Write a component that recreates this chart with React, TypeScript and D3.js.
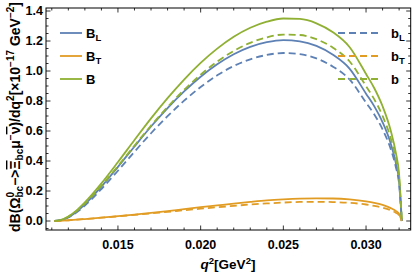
import React from 'react';
import * as d3 from 'd3';

// q^2 sample points [GeV^2]
const qValues = [0.01116, 0.0115, 0.012, 0.0125, 0.013, 0.014, 0.015, 0.016, 0.017, 0.018, 0.019, 0.020, 0.021, 0.022, 0.023, 0.024, 0.025, 0.026, 0.027, 0.028, 0.029, 0.030, 0.0305, 0.031, 0.0315, 0.0318, 0.0320, 0.03216];

// solid curves
const B_L = [0, 0.004, 0.0255, 0.062, 0.111, 0.229, 0.361, 0.497, 0.630, 0.753, 0.864, 0.962, 1.045, 1.112, 1.161, 1.192, 1.206, 1.198, 1.167, 1.108, 1.016, 0.849, 0.764, 0.658, 0.514, 0.388, 0.263, 0];
const B_T = [0, 0.0015, 0.005, 0.009, 0.013, 0.022, 0.032, 0.043, 0.054, 0.066, 0.079, 0.092, 0.104, 0.116, 0.127, 0.137, 0.144, 0.149, 0.151, 0.150, 0.144, 0.131, 0.121, 0.107, 0.086, 0.067, 0.047, 0];
const B = [0, 0.0055, 0.0305, 0.071, 0.124, 0.251, 0.393, 0.540, 0.684, 0.819, 0.943, 1.054, 1.149, 1.228, 1.288, 1.329, 1.350, 1.347, 1.318, 1.258, 1.160, 0.980, 0.885, 0.765, 0.600, 0.455, 0.310, 0];

// dashed curves
const b_L = [0, 0.0037, 0.0237, 0.0576, 0.103, 0.213, 0.335, 0.462, 0.585, 0.699, 0.802, 0.893, 0.971, 1.033, 1.078, 1.107, 1.120, 1.113, 1.084, 1.029, 0.944, 0.789, 0.710, 0.611, 0.477, 0.360, 0.244, 0];
const b_T = [0, 0.0015, 0.005, 0.009, 0.013, 0.022, 0.031, 0.041, 0.051, 0.061, 0.072, 0.082, 0.092, 0.101, 0.110, 0.117, 0.123, 0.127, 0.128, 0.126, 0.121, 0.110, 0.101, 0.089, 0.071, 0.055, 0.039, 0];
const b = [0, 0.0052, 0.0287, 0.0666, 0.116, 0.235, 0.366, 0.503, 0.636, 0.760, 0.874, 0.975, 1.063, 1.134, 1.188, 1.224, 1.243, 1.240, 1.212, 1.155, 1.065, 0.899, 0.811, 0.700, 0.548, 0.415, 0.283, 0];

const xTicks = [0.015, 0.020, 0.025, 0.030];
const yTicks = [0.0, 0.2, 0.4, 0.6, 0.8, 1.0, 1.2, 1.4];

const BLUE = '#5E81B5';
const ORANGE = '#E19C24';
const GREEN = '#8FB032';

const series = [
  { name: 'L', values: B_L, color: BLUE, dashed: false },
  { name: 'T', values: B_T, color: ORANGE, dashed: false },
  { name: '', values: B, color: GREEN, dashed: false },
  { name: 'L', values: b_L, color: BLUE, dashed: true },
  { name: 'T', values: b_T, color: ORANGE, dashed: true },
  { name: '', values: b, color: GREEN, dashed: true },
];

const W = 415;
const H = 278;
const left = 46, right = 410.7, top = 8, bottom = 230;

const x = d3.scaleLinear().domain([0.01065, 0.0327]).range([left, right]);
const y = d3.scaleLinear().domain([-0.06, 1.42]).range([bottom, top]);

const font = '"Liberation Sans", Arial, sans-serif';

export default function App() {
  const line = d3.line<number>()
    .x((_, i) => x(qValues[i]))
    .y(d => y(d))
    .curve(d3.curveMonotoneX);

  // minor ticks (Mathematica style)
  const xMinor = d3.range(11, 33).map(v => v / 1000).filter(v => !xTicks.some(t => Math.abs(t - v) < 1e-9));
  const yMinor = d3.range(-1, 29).map(v => v * 0.05).filter(v => !yTicks.some(t => Math.abs(t - v) < 1e-9));

  const major = 4.5, minor = 2.5;

  return (
    <svg width={W} height={H} style={{ position: 'absolute', left: 0, top: 0, background: '#fff' }} fontFamily={font}>
      {/* curves */}
      <g fill="none" strokeWidth={1.8}>
        {series.map((s, i) => (
          <path key={i} d={line(s.values) || ''} stroke={s.color} strokeDasharray={s.dashed ? '7,4' : undefined} />
        ))}
      </g>

      {/* frame */}
      <rect x={left} y={top} width={right - left} height={bottom - top} fill="none" stroke="#000" strokeWidth={1} />

      {/* ticks on all four sides */}
      <g stroke="#000" strokeWidth={0.8}>
        {xTicks.map(t => (
          <g key={'xt' + t}>
            <line x1={x(t)} x2={x(t)} y1={bottom} y2={bottom - major} />
            <line x1={x(t)} x2={x(t)} y1={top} y2={top + major} />
          </g>
        ))}
        {xMinor.map(t => (
          <g key={'xm' + t}>
            <line x1={x(t)} x2={x(t)} y1={bottom} y2={bottom - minor} />
            <line x1={x(t)} x2={x(t)} y1={top} y2={top + minor} />
          </g>
        ))}
        {yTicks.map(t => (
          <g key={'yt' + t}>
            <line x1={left} x2={left + major} y1={y(t)} y2={y(t)} />
            <line x1={right} x2={right - major} y1={y(t)} y2={y(t)} />
          </g>
        ))}
        {yMinor.map(t => (
          <g key={'ym' + t}>
            <line x1={left} x2={left + minor} y1={y(t)} y2={y(t)} />
            <line x1={right} x2={right - minor} y1={y(t)} y2={y(t)} />
          </g>
        ))}
      </g>

      {/* tick labels */}
      <g fontSize={12.5} fontWeight="bold" fill="#000">
        {xTicks.map(t => (
          <text key={'xl' + t} x={x(t)} y={248.5} textAnchor="middle">{d3.format('.3f')(t)}</text>
        ))}
        {yTicks.map(t => (
          <text key={'yl' + t} x={43} y={y(t) + 4.4} textAnchor="end">{d3.format('.1f')(t)}</text>
        ))}
      </g>

      {/* x axis title */}
      <text x={228} y={269} textAnchor="middle" fontSize={13.5} fontWeight="bold">
        <tspan fontStyle="italic">q</tspan>
        <tspan fontSize={9.5} dy={-5}>2</tspan>
        <tspan dy={5}>[GeV</tspan>
        <tspan fontSize={9.5} dy={-5}>2</tspan>
        <tspan dy={5}>]</tspan>
      </text>

      {/* y axis title */}
      <text transform="translate(20,117) rotate(-90)" textAnchor="middle" fontSize={14} fontWeight="bold">
        <tspan>dB(Ω</tspan>
        <tspan fontSize={10} dy={-6}>0</tspan>
        <tspan fontSize={10} dx={-5.6} dy={9}>bc</tspan>
        <tspan dy={-3}>−&gt;</tspan>
        <tspan textDecoration="overline">Ξ</tspan>
        <tspan fontSize={10} dy={3}>bc</tspan>
        <tspan dy={-3}>μ</tspan>
        <tspan fontSize={10} dy={-6}>−</tspan>
        <tspan dy={6} textDecoration="overline">ν</tspan>
        <tspan>)/dq</tspan>
        <tspan fontSize={10} dy={-6}>2</tspan>
        <tspan dy={6}>[×10</tspan>
        <tspan fontSize={10} dy={-6}>−17</tspan>
        <tspan dy={6}> GeV</tspan>
        <tspan fontSize={10} dy={-6}>−2</tspan>
        <tspan dy={6}>]</tspan>
      </text>

      {/* legends */}
      <g fontWeight="bold" fontSize={13}>
        {series.map((s, i) => {
          const row = i % 3;
          const ly = 33 + row * 23;
          const x1 = s.dashed ? 338 : 60;
          const x2 = s.dashed ? 382 : 82;
          const tx = s.dashed ? 391 : 86;
          return (
            <g key={'lg' + i}>
              <line x1={x1} x2={x2} y1={ly} y2={ly} stroke={s.color} strokeWidth={1.8} strokeDasharray={s.dashed ? '7,4' : undefined} />
              <text x={tx} y={ly + 4.7}>
                {s.dashed ? 'b' : 'B'}
                {s.name && <tspan fontSize={9.5} dy={3}>{s.name}</tspan>}
              </text>
            </g>
          );
        })}
      </g>
    </svg>
  );
}
